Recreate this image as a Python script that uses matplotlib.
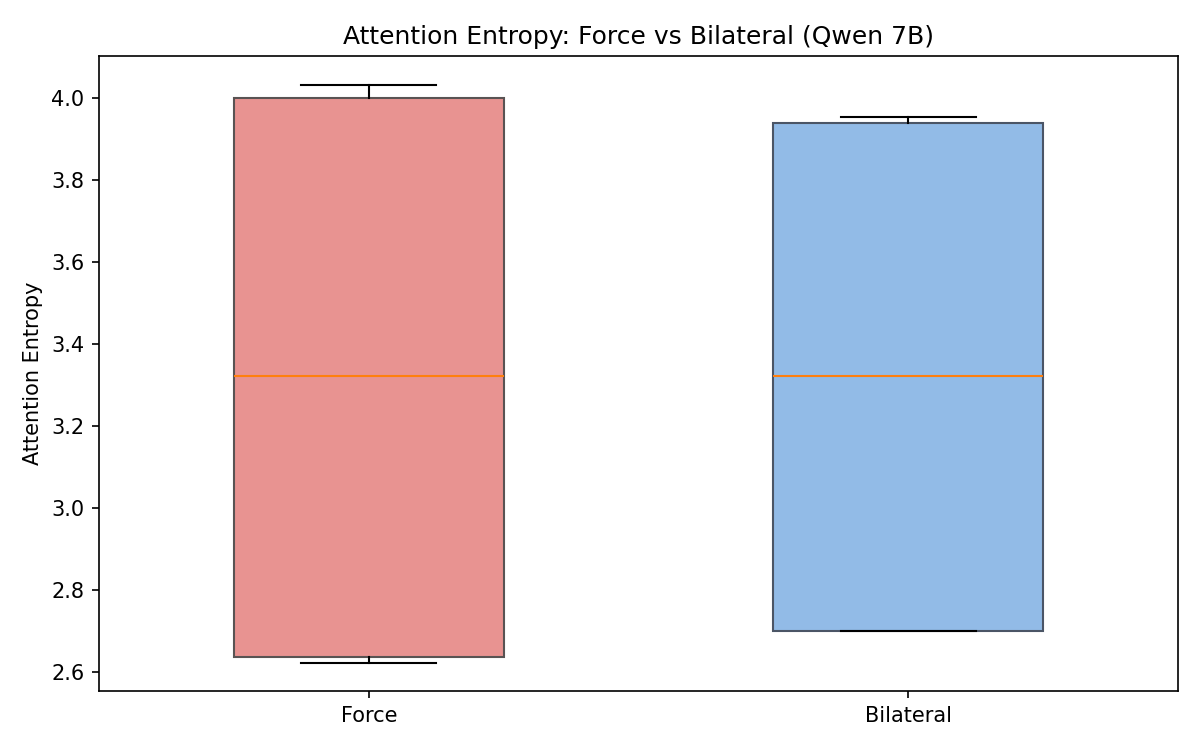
import matplotlib
matplotlib.use("Agg")
import matplotlib.pyplot as plt

# box statistics
groups = ["Force", "Bilateral"]
whislo = [2.623, 2.701]
q1 = [2.637, 2.701]
med = [3.321, 3.321]
q3 = [4.000, 3.939]
whishi = [4.032, 3.954]

face_colors = ["#e89391", "#92bbe7"]
edge_colors = ["#595353", "#4b5566"]

stats = []
for i, name in enumerate(groups):
    stats.append({
        "label": name,
        "whislo": whislo[i],
        "q1": q1[i],
        "med": med[i],
        "q3": q3[i],
        "whishi": whishi[i],
        "fliers": [],
    })

fig, ax = plt.subplots(figsize=(8, 5), dpi=150)
bp = ax.bxp(stats, widths=0.5, patch_artist=True, showfliers=False,
            medianprops=dict(color="#ff7f0e", linewidth=1.0))
for patch, fc, ec in zip(bp["boxes"], face_colors, edge_colors):
    patch.set_facecolor(fc)
    patch.set_edgecolor(ec)
    patch.set_linewidth(1.0)

ax.set_ylim(2.554, 4.102)
ax.set_ylabel("Attention Entropy")
ax.set_title("Attention Entropy: Force vs Bilateral (Qwen 7B)", fontsize=12)

fig.subplots_adjust(left=0.0825, right=0.9817, top=0.925, bottom=0.0787)
fig.savefig("out.png", dpi=150)
